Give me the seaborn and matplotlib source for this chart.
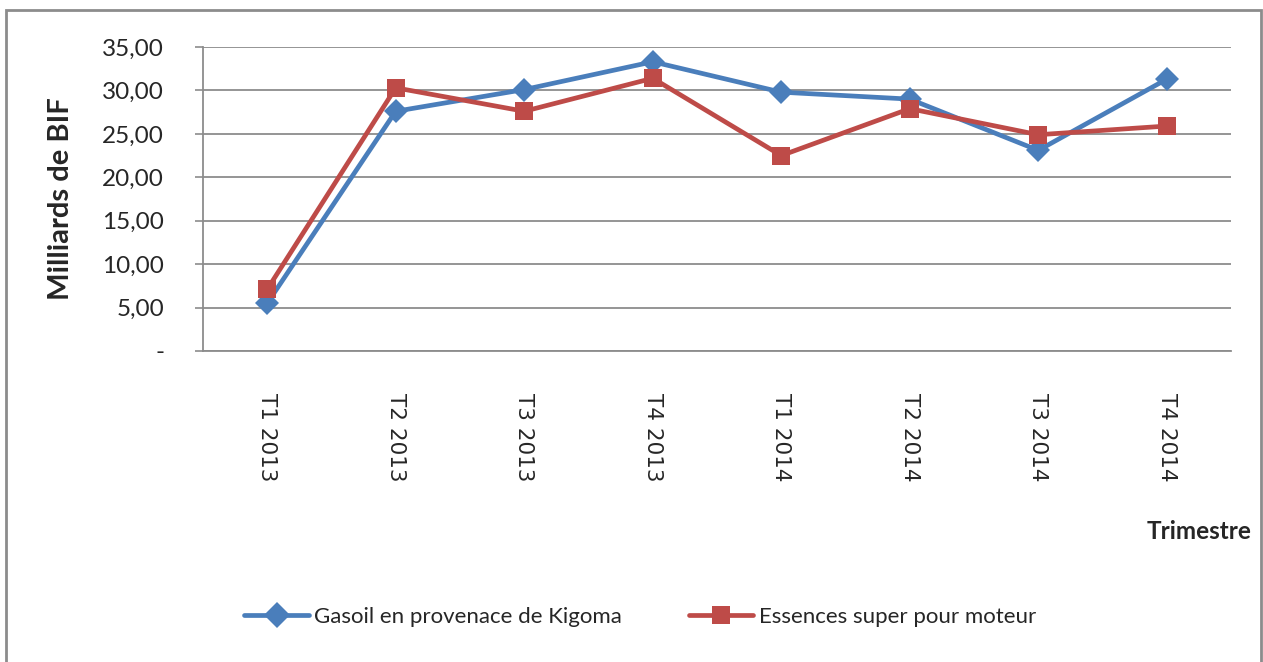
import numpy as np
import pandas as pd
import seaborn as sns
import matplotlib.pyplot as plt
from matplotlib.patches import Rectangle

trimestres = ["T1 2013", "T2 2013", "T3 2013", "T4 2013",
              "T1 2014", "T2 2014", "T3 2014", "T4 2014"]
gasoil = [5.5, 27.6, 30.1, 33.3, 29.8, 29.0, 23.1, 31.3]
essences = [7.1, 30.3, 27.6, 31.4, 22.5, 27.9, 24.9, 25.9]
serie_names = ["Gasoil en provenace de Kigoma", "Essences super pour moteur"]
y_ticks = [0, 5, 10, 15, 20, 25, 30, 35]

df = pd.DataFrame({
    "Trimestre": trimestres * 2,
    "x": list(range(len(trimestres))) * 2,
    "valeur": gasoil + essences,
    "serie": [serie_names[0]] * len(gasoil) + [serie_names[1]] * len(essences),
})

sns.set_style("white")
plt.rcParams['font.family'] = ['Lato', 'DejaVu Sans']

fig = plt.figure(figsize=(12.63, 6.62), dpi=100)
ax = fig.add_axes([0.1607, 0.4698, 0.9747 - 0.1607, 0.929 - 0.4698])

pal = {serie_names[0]: "#4a7ebb", serie_names[1]: "#be4b48"}
marks = {serie_names[0]: "D", serie_names[1]: "s"}
sns.lineplot(data=df, x="x", y="valeur", hue="serie", style="serie",
             palette=pal, markers=marks, dashes=False, linewidth=3.4,
             markersize=13, markeredgewidth=0, ax=ax, legend=True)
# diamond a bit smaller than the square
for ln in ax.get_lines()[:1]:
    ln.set_markersize(12)

ax.set_xlim(-0.5, len(trimestres) - 0.5)
ax.set_ylim(0, 35)
ax.set_yticks(y_ticks)
ax.set_yticklabels(["-" if v == 0 else f"{v:.2f}".replace(".", ",") for v in y_ticks],
                   fontsize=17.5)
ax.yaxis.grid(True, color="#8c8c8c", linewidth=1.3)
ax.xaxis.grid(False)

ax.set_xticks(np.arange(len(trimestres)))
ax.set_xticklabels(trimestres, rotation=-90, fontsize=15.5, family="DejaVu Sans")
ax.tick_params(axis="x", length=0, pad=30)
ax.set_xticks(np.arange(-0.5, len(trimestres)), minor=True)
ax.tick_params(axis="x", which="minor", length=8, color="#8c8c8c", width=1.2, direction="out")
ax.tick_params(axis="y", length=6, color="#8c8c8c", width=1.2, direction="out", left=True, pad=22)

for s in ["top", "right"]:
    ax.spines[s].set_visible(False)
for s in ["left", "bottom"]:
    ax.spines[s].set_color("#8c8c8c")
    ax.spines[s].set_linewidth(1.3)

ax.set_xlabel("")
ax.set_ylabel("Milliards de BIF", fontsize=21, fontweight="bold", labelpad=20)

fig.text(0.991, 0.197, "Trimestre", ha="right", va="center", fontsize=17.5, fontweight="bold")

handles, labels = ax.get_legend_handles_labels()
ax.legend_.remove()
fig.legend(handles, labels, loc="center", bbox_to_anchor=(0.507, 0.068), ncol=2,
           frameon=False, fontsize=16, handlelength=2.9, columnspacing=3.0,
           handletextpad=0.25)

fig.patches.append(Rectangle((6 / 1263, -0.05), (1261 - 6) / 1263, (662 - 10) / 662 + 0.05,
                             transform=fig.transFigure, fill=False,
                             edgecolor="#8c8c8c", linewidth=2))

fig.savefig("out.png", dpi=100)
